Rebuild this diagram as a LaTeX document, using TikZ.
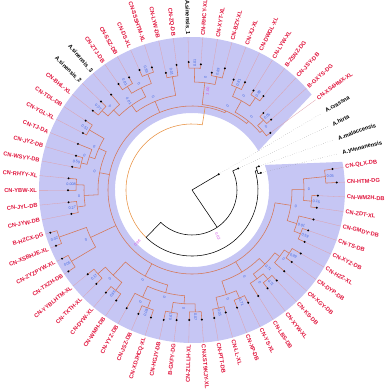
\documentclass[tikz,border=0pt]{standalone}
\usepackage{fontspec}
\setmainfont{Liberation Sans}
\definecolor{lav}{RGB}{198,198,244}
\definecolor{brn}{RGB}{214,118,84}
\definecolor{org}{RGB}{232,144,64}
\definecolor{lred}{RGB}{224,20,60}
\definecolor{bblue}{RGB}{60,100,225}
\definecolor{mgn}{RGB}{205,70,225}
\definecolor{leafln}{RGB}{222,160,170}
\newcommand\angof[1]{\csname la#1\endcsname}
\newcommand\radof[1]{\csname lr#1\endcsname}
\newcommand\setnode[3]{\expandafter\xdef\csname la#1\endcsname{#2}\expandafter\xdef\csname lr#1\endcsname{#3}}
\newcommand\TJoin[5]{%
  \pgfmathsetmacro\jang{(\angof{#3}+\angof{#4})/2}%
  \setnode{#1}{\jang}{#2}%
  \pgfmathsetmacro\jrot{cos(\jang)>=0 ? \jang : \jang+180}%
  \draw[br] (\angof{#3}:\radof{#3}) -- (\angof{#3}:#2) arc[start angle=\angof{#3}, end angle=\angof{#4}, radius=#2] -- (\angof{#4}:\radof{#4});
  \node[bs, rotate=\jrot] (bs#1) at (\jang:#2+5) {#5};
}
\begin{document}
\begin{tikzpicture}[x=1pt,y=1pt,
  br/.style={draw=brn, line width=0.55pt},
  bk/.style={draw=black, line width=0.55pt},
  og/.style={draw=org, line width=0.55pt},
  bs/.style={font=\fontsize{3.7}{4}\selectfont, text=bblue, inner sep=0pt},
  mg/.style={font=\fontsize{3.8}{4.2}\selectfont, text=mgn, inner sep=0pt},
  lab/.style={font=\fontsize{5.7}{6.5}\selectfont\bfseries, inner sep=0pt},
  leafdot/.style={fill=black, draw=none},
  lf/.style={draw=leafln, line width=0.3pt},
  od/.style={draw=gray, line width=0.35pt, dotted}]
\useasboundingbox (-192,-200) rectangle (193,190);
% shaded annulus
\fill[lav] (30.5:77) -- (38.6:153) arc[start angle=38.6, end angle=370.6, radius=153] -- (379:77) arc[start angle=379, end angle=30.5, radius=77] -- cycle;
% leaves
\foreach \i/\rr in {1/142,2/145,3/126,4/126,5/125,6/123,7/124,8/126,9/123,10/123,11/124,12/124,13/125,14/126,15/126,16/127,17/130,18/130,19/130,20/131,21/133,22/134,23/135,24/135,25/134,26/134,27/134,28/134,29/148,30/147,31/147,32/148,33/123,34/124,35/124,36/124,37/122,38/121,39/123,40/123,41/127,42/127,43/127,44/125,45/129,46/129,47/131,48/129,49/120,50/126,51/128,52/126,53/119,54/126,55/118,56/120,57/117,58/118,59/105,60/106,61/97,62/31,63/51,64/71,65/71}{%
  \pgfmathsetmacro\a{8.5-5.54*(\i-1)}%
  \setnode{\i}{\a}{\rr}%
}
% leaf guide lines
\foreach \i in {1,...,61}{\draw[lf] (\angof{\i}:\radof{\i}) -- (\angof{\i}:153);}
\foreach \i in {62,...,65}{\draw[od] (\angof{\i}:\radof{\i}) -- (\angof{\i}:150);}
% clade K1
\TJoin{a1}{134}{1}{2}{0.05}
\TJoin{a2}{120}{3}{4}{0.15}
\TJoin{a3}{112}{a1}{a2}{0}
\TJoin{a4}{117}{6}{7}{0.59}
\TJoin{a5}{110}{5}{a4}{0.01}
\TJoin{K1}{100}{a3}{a5}{0}
% clade K2
\TJoin{b1}{116}{8}{9}{0.89}
\TJoin{b2}{110}{b1}{10}{0}
\TJoin{b3}{117}{11}{12}{0.71}
\TJoin{b4}{110}{b3}{13}{0}
\TJoin{b5}{104}{b2}{b4}{0.71}
\TJoin{b6}{118}{14}{15}{0.71}
\TJoin{b7}{121}{16}{17}{0.05}
\TJoin{b8}{110}{b6}{b7}{0}
\TJoin{K2}{96}{b5}{b8}{0}
% clade K3
\TJoin{c1}{122}{18}{19}{0.07}
\TJoin{c2}{124}{20}{21}{0.67}
\TJoin{c3}{114}{c1}{c2}{0}
\TJoin{c4}{126}{22}{23}{0.08}
\TJoin{c5}{118}{c4}{24}{0}
\TJoin{c6}{106}{c3}{c5}{0}
\TJoin{c7}{126}{25}{26}{0.65}
\TJoin{c8}{126}{27}{28}{0.17}
\TJoin{c9}{116}{c7}{c8}{0}
\TJoin{K3}{98}{c6}{c9}{0}
% clade K4
\TJoin{d1}{140}{29}{30}{0.05}
\TJoin{d2}{141}{31}{32}{0.02}
\TJoin{K4}{112}{d1}{d2}{0}
% clade K5
\TJoin{e1}{116}{33}{34}{0.27}
\TJoin{e2}{116}{35}{36}{0.008}
\TJoin{e3}{108}{e1}{e2}{0}
\TJoin{e4}{114}{37}{38}{0.59}
\TJoin{e5}{108}{e4}{39}{0}
\TJoin{e6}{119}{40}{41}{0.51}
\TJoin{e7}{102}{e5}{e6}{0}
\TJoin{K5}{94}{e3}{e7}{0}
% clade K6
\TJoin{f1}{120}{42}{43}{0.07}
\TJoin{f2}{112}{f1}{44}{0}
\TJoin{f3}{122}{45}{46}{0.81}
\TJoin{f4}{124}{47}{48}{0.89}
\TJoin{f5}{114}{f3}{f4}{0}
\TJoin{f6}{104}{f2}{f5}{0.01}
\TJoin{f7}{115}{49}{50}{0.01}
\TJoin{K6}{96}{f6}{f7}{0}
% clade K7
\TJoin{g1}{122}{51}{52}{0.01}
\TJoin{g2}{116}{53}{54}{0.89}
\TJoin{g3}{108}{g1}{g2}{0}
\TJoin{g4}{112}{55}{56}{0.81}
\TJoin{g5}{112}{57}{58}{0.89}
\TJoin{g6}{102}{g4}{g5}{0}
\TJoin{g7}{100}{59}{60}{0.05}
\TJoin{g8}{92}{g7}{61}{0}
\TJoin{g9}{89}{g6}{g8}{0}
\TJoin{K7}{86}{g3}{g9}{0}
% ring of the ingroup
\draw[br] (\angof{K1}:84) arc[start angle=\angof{K1}, end angle=\angof{K7}, radius=84];
\foreach \k in {K1,K2,K3,K4,K5,K6,K7}{\draw[br] (\angof{\k}:84) -- (\angof{\k}:\radof{\k});}
% backbone
\coordinate (O) at (0,0);
\coordinate (X) at (-56:45);
\coordinate (W) at (-134:66);
\coordinate (G) at (-279:84);
\draw[bk] (O) -- (\angof{62}:31);
\draw[bk] (O) -- (X) arc[start angle=-56, end angle=\angof{63}+360, radius=45] -- (\angof{63}:51);
\draw[bk] (X) arc[start angle=-56, end angle=-134, radius=45] -- (W) arc[start angle=-134, end angle=16.7, radius=66] -- (16.7:68);
\draw[bk] (\angof{64}:71) -- (\angof{64}:68) arc[start angle=\angof{64}, end angle=\angof{65}, radius=68] -- (\angof{65}:71);
\draw[og] (W) arc[start angle=-134, end angle=-279, radius=66] -- (G);
% tip dots
\foreach \i in {1,...,65}{\fill[leafdot] (\angof{\i}:\radof{\i}) circle[radius=1.1];}
% magenta supports
\node[mg, rotate=-61] (m1) at (-61:53) {0.62};
\node[mg, rotate=44] (m2) at (-136:76) {0.96};
\node[mg, rotate=81] (m3) at (81:100) {1.00};
% labels
\foreach \i/\t/\c in {1/CN-QLX-DB/lred,2/CN-HTM-DG/lred,3/CN-WM2H-DB/lred,4/CN-ZDT-XL/lred,5/CN-GMDY-DB/lred,6/CN-TS-DB/lred,7/CN-XYZ-DB/lred,8/CN-HZZ-XL/lred,9/CN-DYP-DB/lred,10/CN-XGY-DB/lred,11/CN-KS-DB/lred,12/CN-XYW-XL/lred,13/CN-LBS-DB/lred,14/CN-YS-XL/lred,15/CN-XP-DB/lred,16/CN-LL-XL/lred,17/CN-PTT-DB/lred,18/CN-XST9KJY-XL/lred,19/CN-ZLLLH-XL/lred,20/B-GXFY-DG/lred,21/CN-HGJY-DB/lred,22/CN-XDJHCQ-XL/lred,23/CN-JSZ-DB/lred,24/CN-YYZ-DB/lred,25/CN-WMH-DB/lred,26/CN-DYW-XL/lred,27/CN-TXTH-XL/lred,28/CN-YYBLHTM-XL/lred,29/CN-TXZH-DB/lred,30/CN-ZYZPYW-XL/lred,31/CN-XSBHJE-XL/lred,32/B-HZCX-DG/lred,33/CN-JYW-DB/lred,34/CN-JYL-DB/lred,35/CN-YBW-XL/lred,36/CN-RHYY-XL/lred,37/CN-WSYY-DB/lred,38/CN-JYZ-DB/lred,39/CN-TJ-DA/lred,40/CN-YGL-XL/lred,41/CN-TDL-DB/lred,42/CN-BHL-XL/lred,43/A.sinensis\_2/black,44/A.sinensis\_3/black,45/CN-ZTJ-DB/lred,46/CN-SSZ-DB/lred,47/CN-DS-XL/lred,48/CN-SSSHTM-XL/lred,49/CN-LYW-DB/lred,50/CN-ZQ-DB/lred,51/A.sinensis\_1/black,52/CN-RHCY-XL/lred,53/CN-XYT-XL/lred,54/CN-BZY-XL/lred,55/CN-XJ-XL/lred,56/CN-DWGL-XL/lred,57/CN-LYW-XL/lred,58/B-ZSNZ-DG/lred,59/CN-JSY-DB/lred,60/B-GXYS-DG/lred,61/CN-XS4HMX-XL/lred,62/A.crassna/black,63/A.hirta/black,64/A.malaccensis/black,65/A.yunnanensis/black}{%
  \pgfmathsetmacro\a{\angof{\i}}%
  \pgfmathtruncatemacro\side{cos(\a)>=0}%
  \ifnum\side=1
    \node[lab, text=\c, rotate=\a, anchor=west] (lab\i) at (\a:155) {\t};
  \else
    \node[lab, text=\c, rotate=\a+180, anchor=east] (lab\i) at (\a:155) {\t};
  \fi
}
\end{tikzpicture}
\end{document}
